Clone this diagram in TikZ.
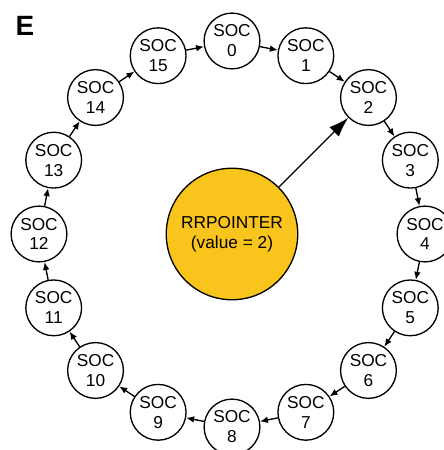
\documentclass[tikz,border=0pt]{standalone}
\usepackage{fontspec}
\setmainfont{Liberation Sans}
\usetikzlibrary{arrows.meta}

\begin{document}
\begin{tikzpicture}
  [scale=.02646,line width=1pt,
   every node/.style={circle,draw,fill=white,align=center,inner sep=0pt,
     font=\fontsize{13}{15}\selectfont},
   soc/.style={minimum size=42pt},
   ptr/.style={minimum size=99pt,fill=rryellow},
   link/.style={-{Latex[length=6pt,width=5pt]}},
   biglink/.style={-{Latex[length=15pt,width=10pt]}}]
  \definecolor{rryellow}{HTML}{F9C41B}
  \useasboundingbox (-232,-216) rectangle (212,234);

  \node[draw=none,fill=none,font=\fontsize{21}{24}\bfseries\selectfont] (lbl) at (-207,208) {E};

  \node[ptr] (rr) at (0,0) {RRPOINTER\\(value = 2)};

  \foreach \i in {0,...,15}
    \node[soc] (s\i) at ({90-22.5*\i}:193) {SOC\\\i};

  \foreach \from/\to in {s0/s1,s1/s2,s2/s3,s3/s4,s4/s5,s5/s6,s6/s7,s7/s8,
      s8/s9,s9/s10,s10/s11,s11/s12,s12/s13,s13/s14,s14/s15,s15/s0}
    \draw[link] (\from) -- (\to);

  \draw[biglink] (rr) -- (s2);

\end{tikzpicture}
\end{document}
